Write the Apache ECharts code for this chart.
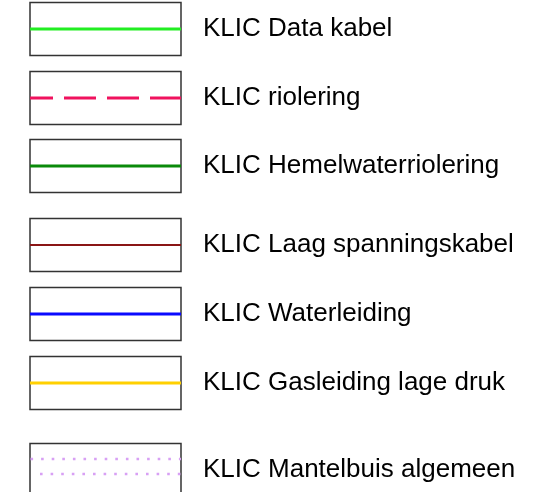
<!DOCTYPE html>
<html>
<head>
<meta charset="utf-8">
<script src="https://cdn.jsdelivr.net/npm/echarts@6/dist/echarts.min.js"></script>
<style>
  html, body { margin: 0; padding: 0; background: #fff; }
  #main { width: 540px; height: 492px; }
</style>
</head>
<body>
<div id="main"></div>
<script>
// legend entries, top to bottom
const labels = [
    'KLIC Data kabel',
    'KLIC riolering',
    'KLIC Hemelwaterriolering',
    'KLIC Laag spanningskabel',
    'KLIC Waterleiding',
    'KLIC Gasleiding lage druk',
    'KLIC Mantelbuis algemeen'
];
const lineColors = ['#22ee22', '#f0125e', '#0a8a0a', '#8a1515', '#0a0aff', '#ffd000', '#d8a0f4'];
const lineKinds = ['solid', 'dashed', 'solid', 'solid', 'solid', 'solid', 'dotted'];

// layout (pixel space of the grid)
const rowCenter = [29, 98, 166, 245, 314, 383, 470];
const boxLeft = 30, boxRight = 181, boxHalf = 26.5, textX = 203;

const myChart = echarts.init(document.getElementById('main'));

function renderRow(params, api) {
    const i = api.value(0);
    const cy = api.value(1);
    const tl = api.coord([boxLeft, cy - boxHalf]);
    const br = api.coord([boxRight, cy + boxHalf]);
    const mid = api.coord([boxLeft, cy]);
    const children = [{
        type: 'rect',
        shape: {x: tl[0], y: tl[1], width: br[0] - tl[0], height: br[1] - tl[1]},
        style: {fill: '#fff', stroke: '#333', lineWidth: 1.5}
    }];
    const kind = lineKinds[i];
    if (kind === 'dotted') {
        // two rows of small dots, the lower one starts a dot later
        [[-11, 0.5], [4, 10]].forEach(function (row) {
            children.push({
                type: 'line',
                shape: {x1: tl[0] + row[1], y1: mid[1] + row[0], x2: br[0], y2: mid[1] + row[0]},
                style: {stroke: lineColors[i], lineWidth: 2.6, lineDash: [2.6, 8]}
            });
        });
    } else {
        children.push({
            type: 'line',
            shape: {x1: tl[0], y1: mid[1], x2: br[0], y2: mid[1]},
            style: {
                stroke: lineColors[i],
                lineWidth: i === 3 ? 2.2 : 3,
                lineDash: kind === 'dashed' ? [32, 11] : null,
                lineDashOffset: kind === 'dashed' ? 9 : 0
            }
        });
    }
    children.push({
        type: 'text',
        x: api.coord([textX, cy])[0],
        y: mid[1],
        style: {
            text: labels[i],
            fill: '#000',
            font: '26px "Liberation Sans", Arial, sans-serif',
            verticalAlign: 'middle',
            align: 'left'
        }
    });
    return {type: 'group', children: children};
}

const option = {
    animation: false,
    grid: {left: 0, top: 0, width: 540, height: 492},
    xAxis: {type: 'value', min: 0, max: 540, show: false},
    yAxis: {type: 'value', min: 0, max: 492, inverse: true, show: false},
    series: [{
        type: 'custom',
        renderItem: renderRow,
        data: labels.map(function (_, i) { return [i, rowCenter[i]]; })
    }]
};

myChart.setOption(option);
</script>
</body>
</html>
